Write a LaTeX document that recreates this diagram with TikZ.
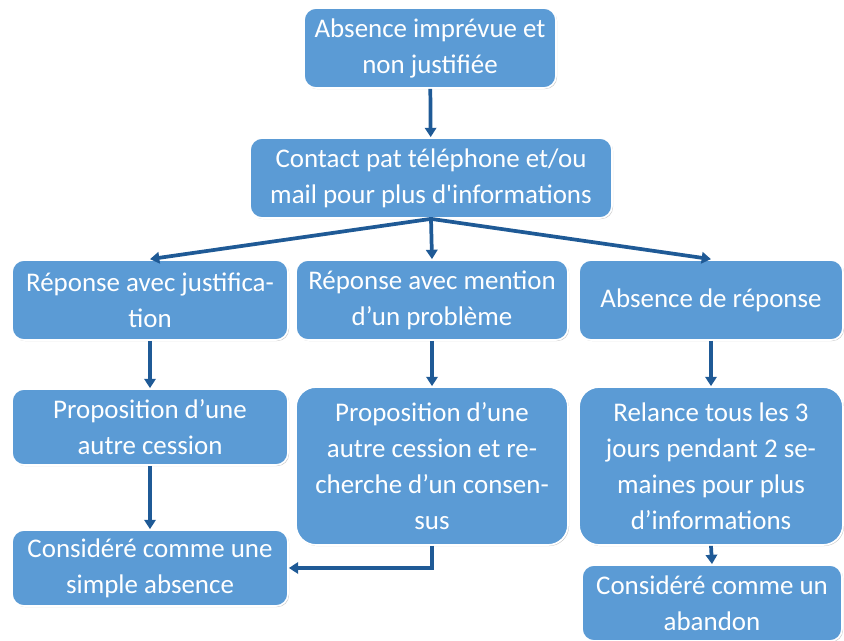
\documentclass[tikz,border=0pt]{standalone}
\usepackage{fontspec}
\setmainfont{Carlito}[Ligatures=TeXOff]
\usetikzlibrary{arrows.meta,shadows}
\definecolor{boxblue}{HTML}{5B9BD5}
\definecolor{arrowblue}{HTML}{1F5A96}
\tikzset{
  box/.style={rounded corners=9pt, fill=boxblue, draw=white, line width=1.3pt,
    drop shadow={shadow xshift=0.8pt, shadow yshift=-0.8pt, fill=black!35, opacity=0.6},
    text=white, align=center, font=\fontsize{20.2}{27}\selectfont, inner sep=0pt},
  bigbox/.style={box, rounded corners=15pt},
  arr/.style={draw=arrowblue, line width=2.8pt, -{Triangle[length=7pt,width=8.5pt]}}
}
\begin{document}
\begin{tikzpicture}[x=0.75pt,y=-0.75pt]
\useasboundingbox (0,0) rectangle (844,641);
\node[box, minimum width=252*0.75pt, minimum height=80*0.75pt] (top) at (430,48) {Absence imprévue et\\non justifiée};
\node[box, minimum width=362*0.75pt, minimum height=80*0.75pt] (contact) at (431,178) {Contact pat téléphone et/ou\\mail pour plus d'informations};
\node[box, minimum width=276*0.75pt, minimum height=80*0.75pt] (r3L) at (150,300) {Réponse avec justifica-\\tion};
\node[box, minimum width=272*0.75pt, minimum height=80*0.75pt] (r3M) at (432,300) {Réponse avec mention\\d’un problème};
\node[box, minimum width=264*0.75pt, minimum height=80*0.75pt] (r3R) at (711,300) {Absence de réponse};
\node[box, minimum width=276*0.75pt, minimum height=76*0.75pt] (r4L) at (150,427) {Proposition d’une\\autre cession};
\node[bigbox, minimum width=272*0.75pt, minimum height=158*0.75pt] (r4M) at (432,466) {Proposition d’une\\autre cession et re-\\cherche d’un consen-\\sus};
\node[bigbox, minimum width=264*0.75pt, minimum height=158*0.75pt] (r4R) at (711,466) {Relance tous les 3\\jours pendant 2 se-\\maines pour plus\\d’informations};
\node[box, minimum width=276*0.75pt, minimum height=76*0.75pt] (r5L) at (150,568) {Considéré comme une\\simple absence};
\node[box, minimum width=260*0.75pt, minimum height=76*0.75pt] (r5R) at (712,603) {Considéré comme un\\abandon};
\draw[arr] (top) -- (contact);
\coordinate (split) at (contact.south);
\draw[arr] (split) -- (r3L.north);
\draw[arr] (split) -- (r3M.north);
\draw[arr] (split) -- (r3R.north);
\draw[arr] (r3L) -- (r4L);
\draw[arr] (r3M) -- (r4M);
\draw[arr] (r3R) -- (r4R);
\draw[arr] (r4L) -- (r5L);
\draw[arr] (r4M.south) |- (r5L.east);
\draw[arr] (r4R.south) -- (r5R.north);
\end{tikzpicture}
\end{document}
